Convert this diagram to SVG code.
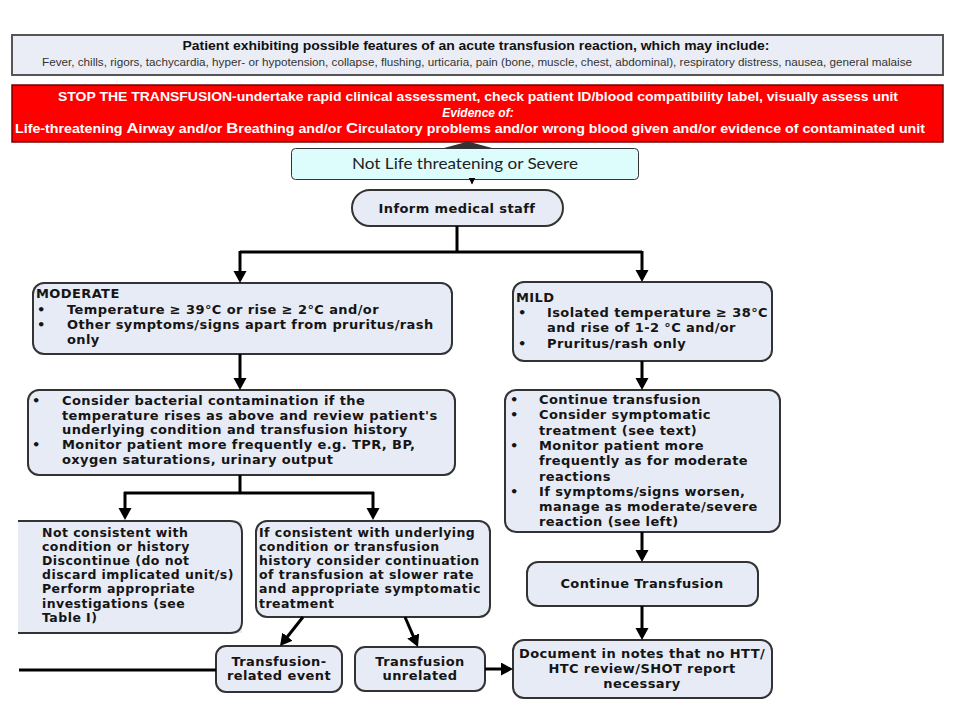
<svg xmlns="http://www.w3.org/2000/svg" width="960" height="720" viewBox="0 0 960 720">
<defs>
<style>
.box{fill:#e7ebf5;stroke:#333;stroke-width:2}
.t{font-family:"DejaVu Sans",sans-serif;font-weight:bold;font-size:13px;letter-spacing:0.4px;fill:#151515}
.s{font-size:12.5px;letter-spacing:0.45px}
.c{text-anchor:middle}
.ln{fill:none;stroke:#000;stroke-width:3}
.wt{font-family:"Liberation Sans",Arial,sans-serif;font-weight:bold;fill:#fff;font-size:12px}
</style>
<marker id="ah" markerUnits="userSpaceOnUse" markerWidth="14" markerHeight="14" refX="2" refY="6.5" orient="auto">
<path d="M0,0 L12,6.5 L0,13 z" fill="#000"/>
</marker>
<marker id="sm" markerUnits="userSpaceOnUse" markerWidth="8" markerHeight="8" refX="6" refY="3.5" orient="auto">
<path d="M0,0 L7,3.5 L0,7 z" fill="#000"/>
</marker>
</defs>
<rect width="960" height="720" fill="#fff"/>

<g id="features">
<rect x="12" y="35" width="931" height="40" fill="#eaedf6" stroke="#555" stroke-width="2"/>
<text x="476" y="50" text-anchor="middle" font-family="Liberation Sans, Arial, sans-serif" font-weight="bold" font-size="12" fill="#111" textLength="587" lengthAdjust="spacingAndGlyphs">Patient exhibiting possible features of an acute transfusion reaction, which may include:</text>
<text x="477" y="65.5" text-anchor="middle" font-family="Liberation Sans, Arial, sans-serif" font-size="10.5" fill="#333" textLength="870" lengthAdjust="spacingAndGlyphs">Fever, chills, rigors, tachycardia, hyper- or hypotension, collapse, flushing, urticaria, pain (bone, muscle, chest, abdominal),  respiratory distress, nausea, general malaise</text>
</g>

<g id="stop">
<rect x="12" y="85" width="931" height="57" fill="#ff0000" stroke="#700" stroke-width="1.5"/>
<text class="wt" x="478" y="101" text-anchor="middle" textLength="840" lengthAdjust="spacingAndGlyphs">STOP THE TRANSFUSION-undertake rapid clinical assessment, check patient ID/blood compatibility label, visually assess unit</text>
<text class="wt" x="478" y="116.5" text-anchor="middle" font-style="italic" font-size="12.5">Evidence of:</text>
<text class="wt" x="470" y="133" text-anchor="middle" textLength="910" lengthAdjust="spacingAndGlyphs">Life-threatening <tspan font-size="14">A</tspan>irway and/or <tspan font-size="14">B</tspan>reathing and/or <tspan font-size="14">C</tspan>irculatory problems and/or wrong blood given and/or evidence of contaminated unit</text>
</g>

<g id="hidden-arrow">
<path d="M444,148 L468,141.5 L492,148 z" fill="#333"/>
</g>

<g id="notlife">
<rect x="291.5" y="148.5" width="347" height="31" rx="4" fill="#ddfcfc" stroke="#333" stroke-width="1"/>
<text x="465" y="168.5" text-anchor="middle" font-family="Lato, 'Open Sans', sans-serif" font-size="16" fill="#222" textLength="226" lengthAdjust="spacingAndGlyphs">Not Life threatening or Severe</text>
</g>

<g id="inform">
<rect class="box" x="352" y="190" width="211" height="36" rx="18"/>
<text class="t c" x="457" y="212.5">Inform medical staff</text>
</g>

<g id="moderate">
<rect class="box" x="33" y="283" width="419" height="71" rx="11"/>
<text class="t" x="36" y="298">MODERATE</text>
<text class="t" x="37" y="313.5">•</text>
<text class="t" x="67" y="313.5">Temperature ≥ 39°C or rise ≥ 2°C and/or</text>
<text class="t" x="37" y="329">•</text>
<text class="t" x="67" y="329">Other symptoms/signs apart from pruritus/rash</text>
<text class="t" x="67" y="344">only</text>
</g>

<g id="mild">
<rect class="box" x="513" y="282" width="259" height="79" rx="11"/>
<text class="t" x="516" y="302">MILD</text>
<text class="t" x="518" y="317">•</text>
<text class="t" x="547" y="317">Isolated temperature ≥ 38°C</text>
<text class="t" x="547" y="332">and rise of 1-2 °C and/or</text>
<text class="t" x="518" y="348">•</text>
<text class="t" x="547" y="348">Pruritus/rash only</text>
</g>

<g id="consider">
<rect class="box" x="28" y="390" width="427" height="85" rx="11"/>
<text class="t" x="32" y="405">•</text>
<text class="t" x="62" y="405">Consider bacterial contamination if the</text>
<text class="t" x="62" y="419.5">temperature rises as above and review  patient's</text>
<text class="t" x="62" y="434">underlying condition and transfusion history</text>
<text class="t" x="32" y="449">•</text>
<text class="t" x="62" y="449">Monitor patient more frequently e.g. TPR, BP,</text>
<text class="t" x="62" y="464">oxygen saturations, urinary output</text>
</g>

<g id="continue-mild">
<rect class="box" x="505" y="390" width="275" height="142" rx="11"/>
<text class="t" x="510" y="404">•</text>
<text class="t" x="539" y="404">Continue transfusion</text>
<text class="t" x="510" y="419">•</text>
<text class="t" x="539" y="419">Consider symptomatic</text>
<text class="t" x="539" y="434.5">treatment (see text)</text>
<text class="t" x="510" y="450">•</text>
<text class="t" x="539" y="450">Monitor patient more</text>
<text class="t" x="539" y="465">frequently as for moderate</text>
<text class="t" x="539" y="480.5">reactions</text>
<text class="t" x="510" y="496">•</text>
<text class="t" x="539" y="496">If symptoms/signs worsen,</text>
<text class="t" x="539" y="511">manage as moderate/severe</text>
<text class="t" x="539" y="526">reaction (see left)</text>
</g>

<g id="notconsistent">
<rect x="18" y="521" width="224" height="112" fill="#e7ebf5"/>
<path d="M18,521 H230 Q242,521 242,533 V621 Q242,633 230,633 H18" fill="none" stroke="#333" stroke-width="2"/>
<text class="t s" x="42" y="537">Not consistent with</text>
<text class="t s" x="42" y="551">condition or history</text>
<text class="t s" x="42" y="565">Discontinue (do not</text>
<text class="t s" x="42" y="579">discard implicated unit/s)</text>
<text class="t s" x="42" y="593">Perform appropriate</text>
<text class="t s" x="42" y="608">investigations (see</text>
<text class="t s" x="42" y="622">Table I)</text>
</g>

<g id="consistent">
<rect class="box" x="256" y="521" width="234" height="96" rx="11"/>
<text class="t s" x="259" y="537">If consistent with underlying</text>
<text class="t s" x="259" y="551">condition or transfusion</text>
<text class="t s" x="259" y="565">history consider continuation</text>
<text class="t s" x="259" y="579">of transfusion at slower rate</text>
<text class="t s" x="259" y="593">and appropriate symptomatic</text>
<text class="t s" x="259" y="608">treatment</text>
</g>

<g id="related">
<rect class="box" x="216" y="646" width="126" height="46" rx="10"/>
<text class="t c" x="279" y="665.5">Transfusion-</text>
<text class="t c" x="279" y="680">related event</text>
</g>

<g id="unrelated">
<rect class="box" x="355" y="647" width="130" height="44" rx="10"/>
<text class="t c" x="420" y="665.5">Transfusion</text>
<text class="t c" x="420" y="680">unrelated</text>
</g>

<g id="continue-transfusion">
<rect class="box" x="527" y="562" width="231" height="44" rx="11"/>
<text class="t c" x="642" y="588">Continue Transfusion</text>
</g>

<g id="document">
<rect class="box" x="513" y="640" width="259" height="58" rx="11"/>
<text class="t c" x="642" y="658">Document in notes that no HTT/</text>
<text class="t c" x="642" y="673">HTC review/SHOT report</text>
<text class="t c" x="642" y="688" font-size="11.5">necessary</text>
</g>

<g id="connectors">
<path d="M472,179.5 V183.5" fill="none" stroke="#000" stroke-width="1" marker-end="url(#sm)"/>
<path class="ln" d="M457,226 V252"/>
<path class="ln" d="M240,252 H642"/>
<path class="ln" d="M240,251 V273" marker-end="url(#ah)"/>
<path class="ln" d="M642,251 V272" marker-end="url(#ah)"/>
<path class="ln" d="M240,354 V380" marker-end="url(#ah)"/>
<path class="ln" d="M642,361 V380" marker-end="url(#ah)"/>
<path class="ln" d="M240,475 V493"/>
<path class="ln" d="M124,493 H374"/>
<path class="ln" d="M125,492 V510" marker-end="url(#ah)"/>
<path class="ln" d="M373,492 V510" marker-end="url(#ah)"/>
<path class="ln" d="M642,532 V552" marker-end="url(#ah)"/>
<path class="ln" d="M642,606 V630" marker-end="url(#ah)"/>
<path class="ln" d="M303,617 L286.2,638.2" marker-end="url(#ah)"/>
<path class="ln" d="M405,617 L414,637.8" marker-end="url(#ah)"/>
<path class="ln" d="M485,669 H503" marker-end="url(#ah)"/>
<path class="ln" d="M19,670 H216"/>
</g>
</svg>
